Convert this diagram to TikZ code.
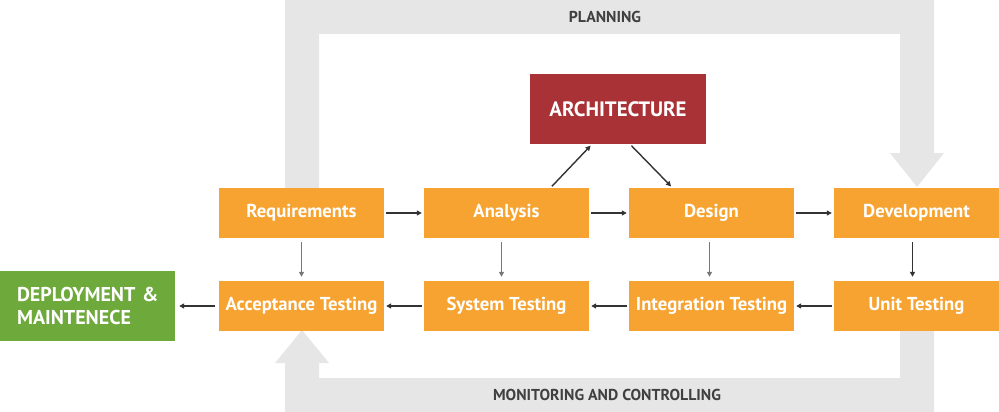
\documentclass[tikz,border=0pt]{standalone}
\usepackage{fontspec}
\setmainfont{PT Sans}
\usetikzlibrary{arrows.meta}

\definecolor{stageorange}{HTML}{F7A331}
\definecolor{archred}{HTML}{A93236}
\definecolor{deploygreen}{HTML}{6EA93B}
\definecolor{bandgray}{HTML}{E6E6E6}
\definecolor{labelgray}{HTML}{404040}
\definecolor{arrowdark}{HTML}{333333}
\definecolor{arrowlight}{HTML}{777777}

\begin{document}
\begin{tikzpicture}[x=1pt,y=-1pt,
    stage/.style={fill=stageorange,text=white,minimum width=165pt,minimum height=50pt,
        inner sep=0pt,font=\fontsize{18.7}{22}\selectfont\bfseries},
    flow/.style={-{Triangle[length=5pt,width=5pt]},line width=1.4pt,draw=arrowdark,
        shorten >=2pt,shorten <=2pt},
    down/.style={flow,shorten >=4pt,shorten <=4pt},
    bandtext/.style={text=labelgray,font=\fontsize{15.8}{18}\selectfont\bfseries}]
        \useasboundingbox (0,0) rectangle (999,412);

        % planning band
        \fill[bandgray] (285,200) -- (285,0) -- (934,0) -- (934,153) -- (944,153)
            -- (917,187) -- (890,153) -- (900,153) -- (900,34) -- (319,34) -- (319,200) -- cycle;
        % monitoring band
        \fill[bandgray] (275,363) -- (302,330) -- (329,363) -- (319,363) -- (319,378)
            -- (900,378) -- (900,320) -- (934,320) -- (934,412) -- (285,412) -- (285,363) -- cycle;

        \node[bandtext] (plan) at (605,17) {PLANNING};
        \node[bandtext] (mon) at (607,395) {MONITORING AND CONTROLLING};

        \node[fill=archred,text=white,minimum width=176pt,minimum height=70pt,inner sep=0pt,
            font=\fontsize{20.8}{24}\selectfont\bfseries] (arch) at (618,109) {ARCHITECTURE};

        \node[stage] (req) at (301.5,213) {Requirements};
        \node[stage] (ana) at (506.5,213) {Analysis};
        \node[stage] (des) at (711.5,213) {Design};
        \node[stage] (dev) at (916.5,213) {Development};

        \node[stage] (acc) at (301.5,306) {Acceptance Testing};
        \node[stage] (sys) at (506.5,306) {System Testing};
        \node[stage] (intg) at (711.5,306) {Integration Testing};
        \node[stage] (unit) at (916.5,306) {Unit Testing};

        \node[fill=deploygreen,text=white,minimum width=175pt,minimum height=70pt,
            inner xsep=17pt,inner ysep=0pt,text width=141pt,align=left,
            font=\fontsize{20}{23.5}\selectfont\bfseries] (dep) at (87.5,306)
            {DEPLOYMENT~\&\\MAINTENECE};

        \draw[flow] (req) -- (ana);
        \draw[flow] (ana) -- (des);
        \draw[flow] (des) -- (dev);
        \draw[flow] (unit) -- (intg);
        \draw[flow] (intg) -- (sys);
        \draw[flow] (sys) -- (acc);
        \draw[flow,shorten >=4pt,shorten <=4pt] (acc) -- (dep);

        \draw[flow] ([xshift=44pt]ana.north) -- ([xshift=-26pt]arch.south);
        \draw[flow] ([xshift=12pt]arch.south) -- ([xshift=-39pt]des.north);

        \draw[down,draw=arrowlight] (req) -- (acc);
        \draw[down,draw=arrowlight] ([xshift=-5pt]ana.south) -- ([xshift=-5pt]sys.north);
        \draw[down,draw=arrowlight] ([xshift=-2pt]des.south) -- ([xshift=-2pt]intg.north);
        \draw[down] ([xshift=-4pt]dev.south) -- ([xshift=-4pt]unit.north);

\end{tikzpicture}
\end{document}
